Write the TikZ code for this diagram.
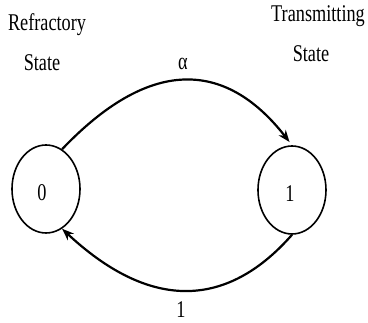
\documentclass[tikz,border=0pt]{standalone}
\usepackage{fontspec}
\setmainfont[FakeStretch=0.76]{Liberation Serif}
\usetikzlibrary{shapes.geometric,arrows.meta}
\begin{document}
\begin{tikzpicture}[x=1pt,y=-1pt,
  statenode/.style={ellipse,draw,line width=1.6pt,minimum width=68pt,minimum height=88pt,inner sep=0pt,font=\fontsize{24}{28}\selectfont},
  lbl/.style={inner sep=0pt,font=\fontsize{24}{28}\selectfont},
  conn/.style={line width=2.2pt,-{Stealth[length=12pt,width=9pt]}}]
\useasboundingbox (0,0) rectangle (368,323);
\node[statenode] (L) at (46,189) {};
\node[statenode] (R) at (292,190) {};
\node[lbl] (zero) at (42,193) {0};
\node[lbl] (one) at (290,194) {1};
\node[lbl] (refr) at (47,25) {Refractory};
\node[lbl] (st1) at (42,63) {State};
\node[lbl] (trans) at (318,16) {Transmitting};
\node[lbl] (st2) at (311,54) {State};
\node[lbl] (alpha) at (183,64) {α};
\node[lbl] (bone) at (181,310) {1};
\draw[conn,shorten >=4pt] (L.68) .. controls (148,59) and (224,58) .. (R.north);
\draw[conn] (R.south) .. controls (225,311) and (148,309) .. (L.-68);
\end{tikzpicture}
\end{document}
